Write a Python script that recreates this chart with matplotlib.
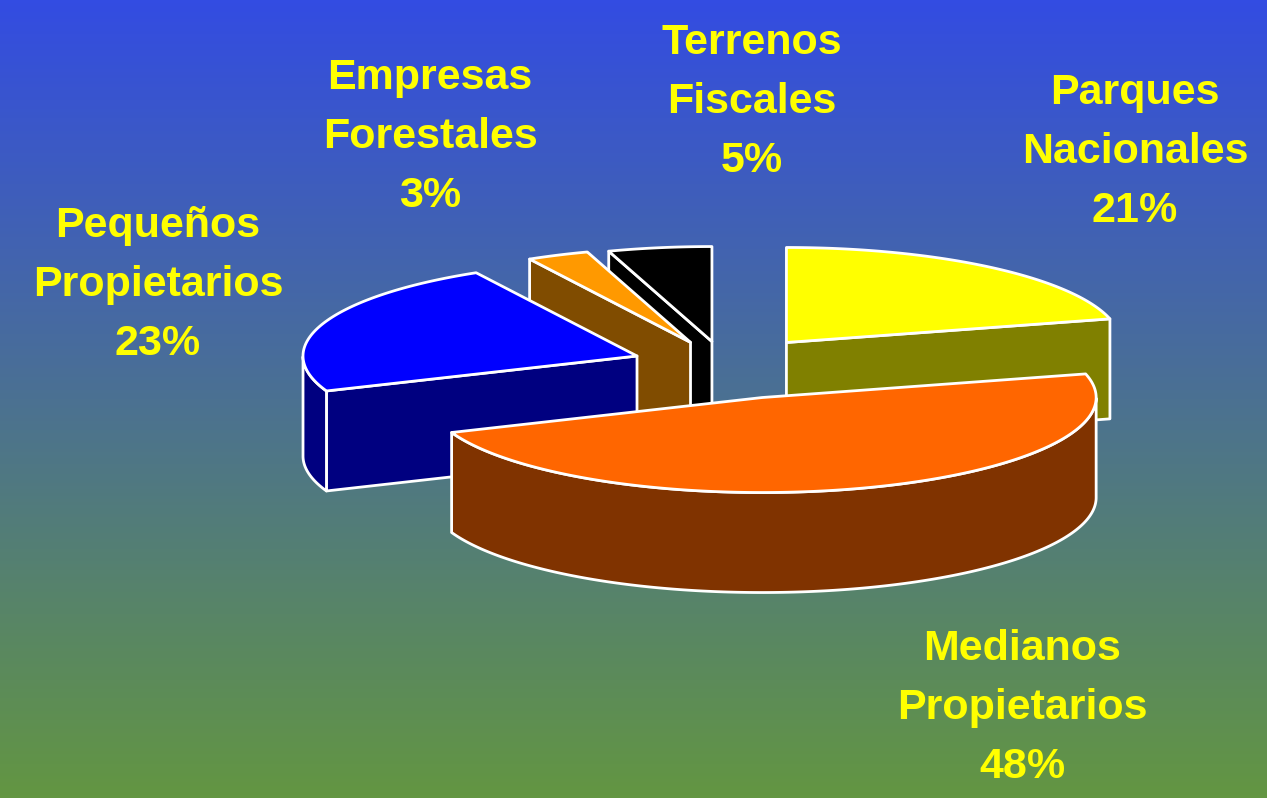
import numpy as np
import matplotlib
matplotlib.use("Agg")
import matplotlib.pyplot as plt
from matplotlib.patches import Polygon

# data
categories = ["Parques\nNacionales", "Medianos\nPropietarios", "Pequeños\nPropietarios",
              "Empresas\nForestales", "Terrenos\nFiscales"]
values = [21, 48, 23, 3, 5]
top_colors = ["#FFFF00", "#FF6600", "#0000FF", "#FF9900", "#000000"]
side_colors = ["#808000", "#803300", "#000080", "#804C00", "#000000"]
explode = [0.30, 0.36, 0.28, 0.26, 0.25]

# label block centres (pixels)
label_pos = [(1135, 152), (1022, 708), (158, 285), (430, 137), (752, 102)]

W, H = 1267, 798
fig = plt.figure(figsize=(W / 100, H / 100), dpi=100)
ax = fig.add_axes([0, 0, 1, 1])
ax.set_xlim(0, W)
ax.set_ylim(H, 0)
ax.axis("off")

# background gradient
top = np.array([0x33, 0x4C, 0xE2]) / 255
bot = np.array([0x63, 0x96, 0x42]) / 255
t = np.linspace(0, 1, 256)[:, None, None]
grad = top * (1 - t) + bot * t
ax.imshow(grad, extent=(0, W, H, 0), aspect="auto", zorder=0)

# pie geometry
cx, cy, a, b, depth = 725, 365, 334, 95, 100
total = sum(values)
start = 90.0


def pt(theta, r, ex, beta, dz=0):
    x = cx + a * (ex * np.cos(beta) + r * np.cos(theta))
    y = cy - b * (ex * np.sin(beta) + r * np.sin(theta)) + dz
    return x, y


slices = []
for i, v in enumerate(values):
    sweep = 360.0 * v / total
    t1 = np.radians(start)
    t2 = np.radians(start - sweep)
    beta = (t1 + t2) / 2
    slices.append((i, t1, t2, beta))
    start -= sweep

# back to front
order = sorted(slices, key=lambda s: -np.sin(s[3]))
edge = dict(edgecolor="white", linewidth=2, joinstyle="round")
z = 2
for i, t1, t2, beta in order:
    ex = explode[i]
    apex = pt(0, 0, ex, beta)
    apex_b = pt(0, 0, ex, beta, depth)
    # radial faces
    for th, nrm in ((t1, t1 + np.pi / 2), (t2, t2 - np.pi / 2)):
        if np.sin(nrm) < -1e-6:
            poly = [apex, pt(th, 1, ex, beta), pt(th, 1, ex, beta, depth), apex_b]
            ax.add_patch(Polygon(poly, closed=True, facecolor=side_colors[i], zorder=z, **edge))
            z += 1
    # outer wall, front part only
    ths = np.linspace(t2, t1, 200)
    front = ths[np.sin(ths) <= 0]
    if len(front) > 1:
        upper = [pt(th, 1, ex, beta) for th in front]
        lower = [pt(th, 1, ex, beta, depth) for th in front[::-1]]
        ax.add_patch(Polygon(upper + lower, closed=True, facecolor=side_colors[i], zorder=z, **edge))
        z += 1
    # top face
    arc = [pt(th, 1, ex, beta) for th in ths]
    ax.add_patch(Polygon([apex] + arc, closed=True, facecolor=top_colors[i], zorder=z, **edge))
    z += 1

# labels
for i, (name, v) in enumerate(zip(categories, values)):
    x, y = label_pos[i]
    ax.text(x, y, f"{name}\n{v}%", ha="center", va="center", ma="center",
            color="#FFFF00", fontsize=31, fontweight="bold", linespacing=1.62,
            family=["Liberation Sans", "DejaVu Sans"], zorder=50)

fig.savefig("out.png", dpi=100)
